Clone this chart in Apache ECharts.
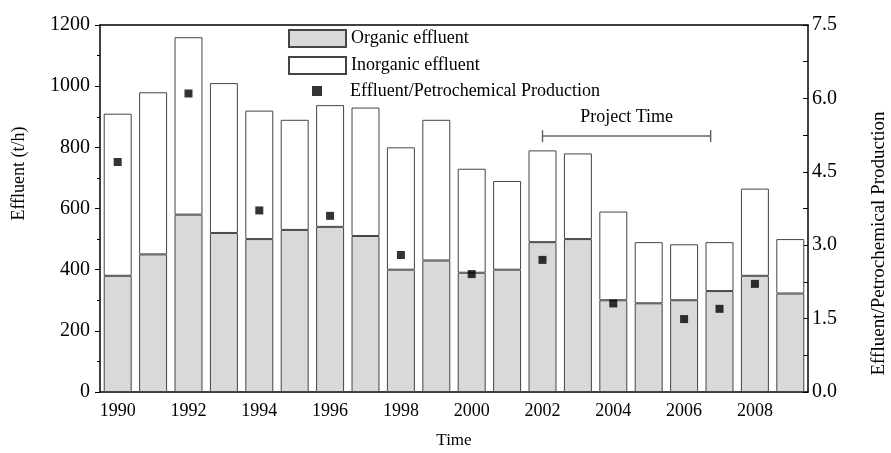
<!DOCTYPE html>
<html>
<head>
<meta charset="utf-8">
<script src="https://cdn.jsdelivr.net/npm/echarts@6/dist/echarts.min.js"></script>
<style>
  html, body { margin: 0; padding: 0; background: #fff; }
  #chart { width: 891px; height: 453px; }
</style>
</head>
<body>
<div id="chart"></div>
<script>
var years = ['1990', '1991', '1992', '1993', '1994', '1995', '1996', '1997', '1998', '1999',
    '2000', '2001', '2002', '2003', '2004', '2005', '2006', '2007', '2008', '2009'];
var organic = [380, 450, 580, 520, 500, 530, 540, 510, 400, 430,
    390, 400, 490, 500, 300, 290, 300, 330, 380, 322];
var total = [910, 980, 1160, 1010, 920, 890, 938, 930, 800, 890,
    730, 690, 790, 780, 590, 490, 483, 490, 665, 500];
// effluent / petrochemical production, only some years measured
var ratio = [4.70, null, 6.10, null, 3.71, null, 3.60, null, 2.80, null,
    2.41, null, 2.70, null, 1.81, null, 1.49, 1.70, 2.21, null];
var leftTicks = [0, 200, 400, 600, 800, 1000, 1200];
var rightTicks = [0, 1.5, 3.0, 4.5, 6.0, 7.5];
// project period bracket: start, end, height on right axis
var projectTime = [[2002, 2006.75, 5.23]];

var inorganic = total.map(function (t, i) { return t - organic[i]; });

var font = 'Liberation Serif';
var chart = echarts.init(document.getElementById('chart'));

chart.setOption({
    animation: false,
    textStyle: { fontFamily: font, color: '#000' },
    grid: { left: 100, right: 83, top: 25, bottom: 61, outerBoundsMode: 'none', containLabel: false },
    legend: [
        {
            data: ['Organic effluent', 'Inorganic effluent'],
            orient: 'vertical',
            left: 288,
            top: 29,
            padding: 0,
            itemWidth: 57,
            itemHeight: 17,
            itemGap: 8,
            icon: 'rect',
            textStyle: { fontFamily: font, fontSize: 18, color: '#000' }
        },
        {
            data: ['Effluent/Petrochemical Production'],
            left: 312,
            top: 82,
            padding: 0,
            itemWidth: 10,
            itemHeight: 10,
            icon: 'rect',
            textStyle: { fontFamily: font, fontSize: 18, color: '#000', padding: [0, 0, 0, 23] }
        }
    ],
    xAxis: [
        {
            type: 'category',
            data: years,
            name: 'Time',
            nameLocation: 'middle',
            nameGap: 40,
            nameTextStyle: { fontFamily: font, fontSize: 17, color: '#000' },
            axisLine: { lineStyle: { color: '#000', width: 1.5 } },
            axisTick: { alignWithLabel: true, interval: 0, length: 5, lineStyle: { color: '#000' } },
            axisLabel: { interval: 1, margin: 10, fontSize: 18, color: '#000', fontFamily: font },
            splitLine: { show: false }
        },
        {
            type: 'value',
            position: 'top',
            min: 1989.5,
            max: 2009.5,
            axisLine: { show: true, onZero: false, lineStyle: { color: '#000', width: 1.5 } },
            axisTick: { show: false },
            axisLabel: { show: false },
            splitLine: { show: false }
        }
    ],
    yAxis: [
        {
            type: 'value',
            min: leftTicks[0],
            max: leftTicks[leftTicks.length - 1],
            interval: 200,
            name: 'Effluent (t/h)',
            nameLocation: 'middle',
            nameGap: 72,
            nameRotate: 90,
            nameTextStyle: { fontFamily: font, fontSize: 18, color: '#000', padding: [0, 0, 0, 70] },
            axisLine: { show: true, lineStyle: { color: '#000', width: 1.5 } },
            axisTick: { show: true, length: 5, lineStyle: { color: '#000' } },
            minorTick: { show: true, splitNumber: 2, length: 3, lineStyle: { color: '#000' } },
            axisLabel: {
                margin: 10,
                fontSize: 20,
                color: '#000',
                fontFamily: font,
                formatter: function (v) { return String(v); }
            },
            splitLine: { show: false }
        },
        {
            type: 'value',
            position: 'right',
            min: rightTicks[0],
            max: rightTicks[rightTicks.length - 1],
            interval: 1.5,
            name: 'Effluent/Petrochemical Production',
            nameLocation: 'middle',
            nameGap: 62,
            nameRotate: 90,
            nameTextStyle: { fontFamily: font, fontSize: 19, color: '#000', padding: [0, 70, 0, 0] },
            axisLine: { show: true, lineStyle: { color: '#000', width: 1.5 } },
            axisTick: { show: true, inside: true, length: 5, lineStyle: { color: '#000' } },
            minorTick: { show: true, splitNumber: 2, length: 5, lineStyle: { color: '#000' } },
            axisLabel: {
                margin: 4,
                fontSize: 20,
                color: '#000',
                fontFamily: font,
                formatter: function (v) { return v.toFixed(1); }
            },
            splitLine: { show: false }
        }
    ],
    series: [
        {
            name: 'Organic effluent',
            type: 'bar',
            stack: 'effluent',
            barWidth: '79%',
            data: organic,
            itemStyle: { color: '#d9d9d9', borderColor: '#444', borderWidth: 1 }
        },
        {
            name: 'Inorganic effluent',
            type: 'bar',
            stack: 'effluent',
            barWidth: '79%',
            data: inorganic,
            itemStyle: { color: '#fff', borderColor: '#444', borderWidth: 1 }
        },
        {
            name: 'Effluent/Petrochemical Production',
            type: 'scatter',
            yAxisIndex: 1,
            symbol: 'rect',
            symbolSize: 8,
            data: ratio,
            itemStyle: { color: '#000' },
            z: 5
        },
        {
            type: 'custom',
            xAxisIndex: 1,
            yAxisIndex: 1,
            silent: true,
            data: projectTime,
            renderItem: function (params, api) {
                var a = api.coord([api.value(0), api.value(2)]);
                var b = api.coord([api.value(1), api.value(2)]);
                var style = { stroke: '#666', lineWidth: 1.5 };
                return {
                    type: 'group',
                    children: [
                        { type: 'line', shape: { x1: a[0], y1: a[1], x2: b[0], y2: b[1] }, style: style },
                        { type: 'line', shape: { x1: a[0], y1: a[1] - 6, x2: a[0], y2: a[1] + 6 }, style: style },
                        { type: 'line', shape: { x1: b[0], y1: b[1] - 6, x2: b[0], y2: b[1] + 6 }, style: style },
                        {
                            type: 'text',
                            x: (a[0] + b[0]) / 2,
                            y: a[1] - 10,
                            style: {
                                text: 'Project Time',
                                fontFamily: font,
                                fontSize: 18,
                                fill: '#000',
                                align: 'center',
                                verticalAlign: 'bottom'
                            }
                        }
                    ]
                };
            }
        }
    ]
});
</script>
</body>
</html>
